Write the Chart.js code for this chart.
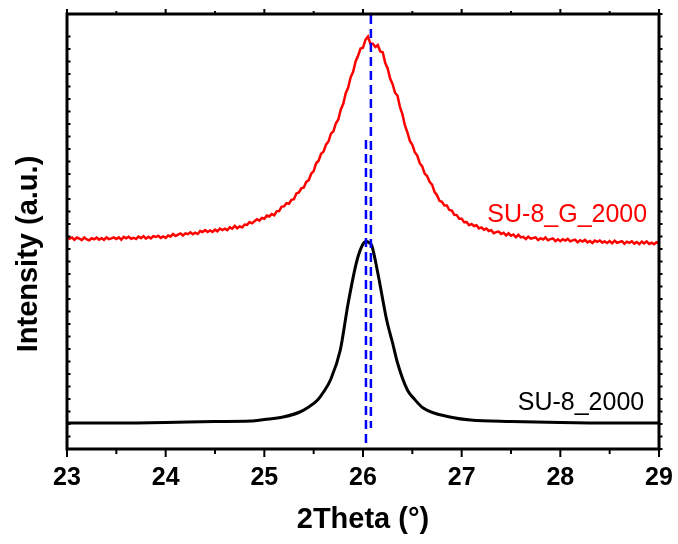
<!DOCTYPE html>
<html>
<head>
<meta charset="utf-8">
<script src="https://cdn.jsdelivr.net/npm/chart.js@4.4.1/dist/chart.umd.min.js"></script>
<style>
  html, body { margin: 0; padding: 0; background: #fff; }
  #wrap { width: 678px; height: 544px; }
</style>
</head>
<body>
<div id="wrap"><canvas id="xrd" width="678" height="544"></canvas></div>
<script>
// 2Theta sampling of the SU-8_G_2000 scan (degrees)
const thetaG = [
  23.000, 23.025, 23.050, 23.075, 23.100, 23.125, 23.150, 23.175, 23.200, 23.225,
  23.250, 23.275, 23.300, 23.325, 23.350, 23.375, 23.400, 23.425, 23.450, 23.475,
  23.500, 23.525, 23.550, 23.575, 23.600, 23.625, 23.650, 23.675, 23.700, 23.725,
  23.750, 23.775, 23.800, 23.825, 23.850, 23.875, 23.900, 23.925, 23.950, 23.975,
  24.000, 24.025, 24.050, 24.075, 24.100, 24.125, 24.150, 24.175, 24.200, 24.225,
  24.250, 24.275, 24.300, 24.325, 24.350, 24.375, 24.400, 24.425, 24.450, 24.475,
  24.500, 24.525, 24.550, 24.575, 24.600, 24.625, 24.650, 24.675, 24.700, 24.725,
  24.750, 24.775, 24.800, 24.825, 24.850, 24.875, 24.900, 24.925, 24.950, 24.975,
  25.000, 25.025, 25.050, 25.075, 25.100, 25.125, 25.150, 25.175, 25.200, 25.225,
  25.250, 25.275, 25.300, 25.325, 25.350, 25.375, 25.400, 25.425, 25.450, 25.475,
  25.500, 25.525, 25.550, 25.575, 25.600, 25.625, 25.650, 25.675, 25.700, 25.725,
  25.750, 25.775, 25.800, 25.825, 25.850, 25.875, 25.900, 25.925, 25.950, 25.975,
  26.000, 26.025, 26.050, 26.075, 26.100, 26.125, 26.150, 26.175, 26.200, 26.225,
  26.250, 26.275, 26.300, 26.325, 26.350, 26.375, 26.400, 26.425, 26.450, 26.475,
  26.500, 26.525, 26.550, 26.575, 26.600, 26.625, 26.650, 26.675, 26.700, 26.725,
  26.750, 26.775, 26.800, 26.825, 26.850, 26.875, 26.900, 26.925, 26.950, 26.975,
  27.000, 27.025, 27.050, 27.075, 27.100, 27.125, 27.150, 27.175, 27.200, 27.225,
  27.250, 27.275, 27.300, 27.325, 27.350, 27.375, 27.400, 27.425, 27.450, 27.475,
  27.500, 27.525, 27.550, 27.575, 27.600, 27.625, 27.650, 27.675, 27.700, 27.725,
  27.750, 27.775, 27.800, 27.825, 27.850, 27.875, 27.900, 27.925, 27.950, 27.975,
  28.000, 28.025, 28.050, 28.075, 28.100, 28.125, 28.150, 28.175, 28.200, 28.225,
  28.250, 28.275, 28.300, 28.325, 28.350, 28.375, 28.400, 28.425, 28.450, 28.475,
  28.500, 28.525, 28.550, 28.575, 28.600, 28.625, 28.650, 28.675, 28.700, 28.725,
  28.750, 28.775, 28.800, 28.825, 28.850, 28.875, 28.900, 28.925, 28.950, 28.975,
  29.000
];
// SU-8_G_2000 intensity (a.u., offset above the SU-8_2000 trace)
const intensityG = [
  1698, 1682, 1692, 1674, 1692, 1684, 1671, 1692, 1676, 1670,
  1686, 1678, 1691, 1675, 1687, 1673, 1693, 1679, 1685, 1693,
  1680, 1693, 1675, 1697, 1685, 1698, 1682, 1690, 1680, 1700,
  1687, 1703, 1683, 1698, 1684, 1703, 1696, 1706, 1689, 1701,
  1689, 1708, 1700, 1720, 1704, 1715, 1725, 1708, 1725, 1719,
  1734, 1719, 1731, 1720, 1744, 1736, 1751, 1736, 1748, 1736,
  1755, 1741, 1764, 1752, 1762, 1751, 1773, 1763, 1785, 1766,
  1781, 1772, 1796, 1793, 1815, 1805, 1822, 1838, 1827, 1848,
  1842, 1868, 1860, 1880, 1869, 1901, 1904, 1939, 1941, 1967,
  1962, 1994, 1999, 2045, 2052, 2086, 2092, 2137, 2150, 2202,
  2223, 2286, 2306, 2362, 2379, 2435, 2460, 2523, 2542, 2605,
  2636, 2717, 2761, 2846, 2891, 2975, 3017, 3100, 3146, 3204,
  3210, 3274, 3300, 3244, 3242, 3216, 3231, 3180, 3174, 3090,
  3044, 2963, 2919, 2850, 2826, 2735, 2677, 2588, 2532, 2465,
  2433, 2374, 2348, 2286, 2261, 2203, 2184, 2137, 2115, 2057,
  2030, 1985, 1977, 1948, 1948, 1912, 1907, 1874, 1871, 1843,
  1843, 1815, 1816, 1790, 1800, 1784, 1790, 1765, 1773, 1754,
  1764, 1744, 1751, 1727, 1735, 1739, 1720, 1730, 1708, 1726,
  1706, 1716, 1694, 1713, 1693, 1697, 1679, 1699, 1683, 1688,
  1693, 1671, 1686, 1676, 1692, 1670, 1679, 1684, 1663, 1677,
  1662, 1678, 1667, 1681, 1661, 1669, 1675, 1654, 1670, 1659,
  1673, 1653, 1664, 1648, 1667, 1657, 1668, 1652, 1660, 1648,
  1663, 1646, 1667, 1650, 1656, 1663, 1642, 1659, 1649, 1662,
  1643, 1656, 1639, 1659, 1645, 1661, 1641, 1651, 1638, 1654,
  1646
];

// SU-8_2000 trace
const theta0 = [
  23.0, 23.5, 24.0, 24.5, 24.86, 25.0, 25.19, 25.36, 25.45, 25.54,
  25.60, 25.67, 25.77, 25.85, 25.94, 26.00, 26.03, 26.06, 26.09, 26.15,
  26.24, 26.30, 26.35, 26.45, 26.52, 26.61, 26.88, 27.09, 27.5, 28.0,
  28.5, 29.0
];
const intensity0 = [
  208, 208, 212, 220, 224, 236, 256, 296, 336, 392,
  456, 552, 792, 1168, 1512, 1640, 1660, 1652, 1624, 1408,
  1032, 848, 688, 472, 400, 328, 256, 232, 220, 212,
  208, 208
];

// Peak-position guide lines: [2Theta, y from, y to]
const peakG = [26.08, 3472, 168];
const peak0 = [26.03, 2472, 32];

// Axis setup
const xMin = 23, xMax = 29, xStep = 0.5;
const yMin = 0, yMax = 3480, yStep = 100;

// Curve labels: [text, 2Theta of right edge, intensity at baseline, colour]
const curveLabels = [
  ['SU-8_G_2000', 28.88, 1816, 'rgb(255,0,0)'],
  ['SU-8_2000', 28.85, 312, '#000']
];

const xTitle = '2Theta (°)';
const yTitle = 'Intensity (a.u.)';

const FONT = "'Liberation Sans', Arial, Helvetica, sans-serif";

const pairs = (xs, ys) => xs.map((x, i) => ({ x: x, y: ys[i] }));

// Frame, tick marks, curve labels and y title
const framePlugin = {
  id: 'frame',
  afterDraw(chart) {
    const { ctx, chartArea: a, scales: { x, y } } = chart;
    ctx.save();
    ctx.strokeStyle = '#000';
    ctx.lineWidth = 2;
    ctx.beginPath();
    x.ticks.forEach(t => {
      const px = x.getPixelForValue(t.value);
      const major = Math.abs(t.value - Math.round(t.value)) < 1e-6;
      ctx.moveTo(px, a.bottom);
      ctx.lineTo(px, a.bottom + (major ? 8 : 5));
      ctx.moveTo(px, a.top);
      ctx.lineTo(px, a.top - (major ? 5 : 3));
    });
    y.ticks.forEach(t => {
      const py = y.getPixelForValue(t.value);
      ctx.moveTo(a.left, py);
      ctx.lineTo(a.left + 3.5, py);
      ctx.moveTo(a.right, py);
      ctx.lineTo(a.right + 3.5, py);
    });
    ctx.stroke();

    ctx.lineWidth = 3;
    ctx.strokeRect(a.left, a.top, a.right - a.left, a.bottom - a.top);

    ctx.font = '25px ' + FONT;
    ctx.textAlign = 'right';
    ctx.textBaseline = 'alphabetic';
    curveLabels.forEach(([txt, tx, ty, col]) => {
      ctx.fillStyle = col;
      ctx.fillText(txt, x.getPixelForValue(tx), y.getPixelForValue(ty));
    });

    ctx.fillStyle = '#000';
    ctx.font = 'bold 29px ' + FONT;
    ctx.textAlign = 'center';
    ctx.translate(37, 254);
    ctx.rotate(-Math.PI / 2);
    ctx.fillText(yTitle, 0, 0);
    ctx.restore();
  }
};

new Chart(document.getElementById('xrd'), {
  type: 'line',
  data: {
    datasets: [
      {
        data: [{ x: peakG[0], y: peakG[1] }, { x: peakG[0], y: peakG[2] }],
        borderColor: 'rgb(0,0,255)', borderWidth: 2.5, borderDash: [9, 5],
        pointRadius: 0, fill: false
      },
      {
        data: [{ x: peak0[0], y: peak0[1] }, { x: peak0[0], y: peak0[2] }],
        borderColor: 'rgb(0,0,255)', borderWidth: 2.5, borderDash: [9, 5],
        pointRadius: 0, fill: false
      },
      {
        label: 'SU-8_G_2000',
        data: pairs(thetaG, intensityG),
        borderColor: 'rgb(255,0,0)', borderWidth: 2.5,
        pointRadius: 0, tension: 0, fill: false
      },
      {
        label: 'SU-8_2000',
        data: pairs(theta0, intensity0),
        borderColor: '#000', borderWidth: 3,
        pointRadius: 0, cubicInterpolationMode: 'monotone', fill: false
      }
    ]
  },
  options: {
    responsive: false,
    animation: false,
    layout: { padding: { left: 0, top: 14, right: 19, bottom: 0 } },
    plugins: { legend: { display: false }, tooltip: { enabled: false } },
    scales: {
      x: {
        type: 'linear',
        min: xMin, max: xMax,
        grid: { display: false, drawTicks: false },
        border: { display: false },
        ticks: {
          stepSize: xStep,
          autoSkip: false,
          maxRotation: 0,
          padding: 14,
          color: '#000',
          font: { family: FONT, size: 25, weight: 'bold' },
          callback: v => (Math.abs(v - Math.round(v)) < 1e-6 ? String(Math.round(v)) : '')
        },
        title: {
          display: true,
          text: xTitle,
          color: '#000',
          font: { family: FONT, size: 29, weight: 'bold' },
          padding: { top: 0, bottom: 7 }
        },
        afterFit: s => { s.height = 95; s.paddingLeft = 0; s.paddingRight = 0; }
      },
      y: {
        type: 'linear',
        min: yMin, max: yMax,
        grid: { display: false, drawTicks: false },
        border: { display: false },
        ticks: { display: false, stepSize: yStep },
        afterFit: s => { s.width = 67; }
      }
    }
  },
  plugins: [framePlugin]
});
</script>
</body>
</html>
